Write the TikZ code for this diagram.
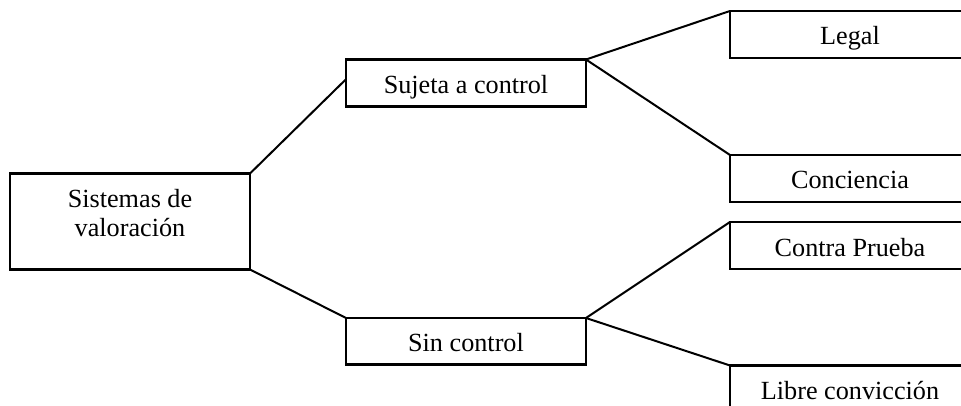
\documentclass[tikz,border=0pt]{standalone}
\usepackage{fontspec}
\setmainfont{Liberation Serif}
\usetikzlibrary{calc}
\begin{document}
\begin{tikzpicture}[x=1pt,y=-1pt,
  lbl/.style={font=\fontsize{26.2}{29}\selectfont},
  box/.style={draw, line width=2.2pt, outer sep=0pt, minimum width=240pt, minimum height=47pt,
    inner sep=0pt, text height=24pt, text depth=3pt, lbl, anchor=north west},
  link/.style={line width=2pt}]
\useasboundingbox (0,0) rectangle (961,406);
\clip (0,0) rectangle (961,406);

\node[box, minimum height=96pt] (sis) at (10,173.5) {};
\node[lbl, align=center, inner sep=0pt, anchor=north] (sistxt) at (130,189.4) {Sistemas de\\valoración};

\node[box] (suj) at (346,59.5) {Sujeta a control};
\node[box, minimum height=46.5pt] (sin) at (346,318) {Sin control};

\node[box] (leg) at (730,11) {Legal};
\node[box] (con) at (730,155) {Conciencia};
\node[box] (cp) at (730,222) {Contra Prueba};
\node[box] (lib) at (730,365.5) {Libre convicción};

\draw[link] (sis.north east) -- ($(suj.north west)!0.42!(suj.south west)$);
\draw[link] (sis.south east) -- (sin.north west);
\draw[link] (suj.north east) -- (leg.north west);
\draw[link] (suj.north east) -- (con.north west);
\draw[link] (sin.north east) -- (cp.north west);
\draw[link] (sin.north east) -- (lib.north west);
\end{tikzpicture}
\end{document}
